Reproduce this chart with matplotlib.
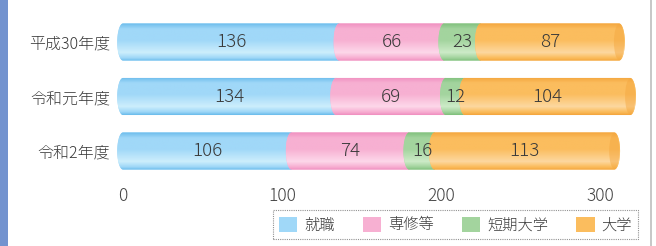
import numpy as np
import matplotlib
matplotlib.use("Agg")
import matplotlib.pyplot as plt
from matplotlib.path import Path
from matplotlib.patches import PathPatch, Ellipse, Patch, Rectangle
from matplotlib.colors import LinearSegmentedColormap, to_rgb

plt.rcParams['font.family'] = ['Noto Sans CJK JP', 'DejaVu Sans']
plt.rcParams['font.weight'] = 'light'

years = ["平成30年度", "令和元年度", "令和2年度"]
series = ["就職", "専修等", "短期大学", "大学"]
shushoku = [136, 134, 106]
senshu = [66, 69, 74]
tandai = [23, 12, 16]
daigaku = [87, 104, 113]
xticks = [0, 100, 200, 300]

values = [shushoku, senshu, tandai, daigaku]
base_colors = ["#a0d8f8", "#f7b0d2", "#a3d49e", "#fbbd5e"]
dark_colors = ["#6cbcec", "#f090c0", "#80c07c", "#f4a63e"]
light_colors = ["#cdeefc", "#fdd8ea", "#cdebc8", "#fdd8a0"]

W, H = 656, 246
fig = plt.figure(figsize=(W / 100, H / 100), dpi=100)
fig.patch.set_facecolor("white")

# frame decorations
fig.patches.append(Rectangle((0, 0), 8 / W, 1, transform=fig.transFigure,
                             facecolor="#7393cf", edgecolor="none"))
fig.patches.append(Rectangle((650 / W, 0), 1.5 / W, 1, transform=fig.transFigure,
                             facecolor="#c8c8c8", edgecolor="none"))

px_per_unit = 1.59
x0_px = 123
ax_left_px, ax_right_px = 117, 645
top_px, bot_px = 14.75, 178.25
ax = fig.add_axes([ax_left_px / W, 1 - bot_px / H, (ax_right_px - ax_left_px) / W, (bot_px - top_px) / H])
ax.set_facecolor("none")
xlim = ((ax_left_px - x0_px) / px_per_unit, (ax_right_px - x0_px) / px_per_unit)

ypos = np.arange(len(years))
bar_h = 0.68
cap_a = 3.6  # half-width of elliptical ends in data units


def make_cmap(i):
    d, b, l = to_rgb(dark_colors[i]), to_rgb(base_colors[i]), to_rgb(light_colors[i])
    return LinearSegmentedColormap.from_list(
        f"c{i}", [(0.0, d), (0.15, b), (0.45, b), (0.78, l), (0.92, b), (1.0, d)])


grad = np.linspace(0, 1, 64).reshape(-1, 1)
left = np.zeros(len(years))
nseg = len(values)
for i, vals in enumerate(values):
    cont = ax.barh(ypos, vals, left=left, height=bar_h, color=base_colors[i],
                   edgecolor="none", zorder=2 + i)
    cmap = make_cmap(i)
    for rect, v in zip(cont.patches, vals):
        x, y, w, h = rect.get_x(), rect.get_y(), rect.get_width(), rect.get_height()
        rect.set_visible(False)
        t = np.linspace(0, np.pi, 40)
        lx = x - cap_a * np.sin(t)
        ly = y + h / 2 + (h / 2) * np.cos(t)
        verts = list(zip(lx, ly))
        if i == nseg - 1:
            rx = x + w + cap_a * np.sin(t)
            ry = y + h / 2 - (h / 2) * np.cos(t)
            verts += list(zip(rx, ry))
        else:
            verts += [(x + w, y), (x + w, y + h)]
        verts.append(verts[0])
        codes = [Path.MOVETO] + [Path.LINETO] * (len(verts) - 2) + [Path.CLOSEPOLY]
        patch = PathPatch(Path(verts, codes), facecolor=base_colors[i], edgecolor="none",
                          zorder=2 + i)
        ax.add_patch(patch)
        im = ax.imshow(grad, cmap=cmap, aspect="auto", interpolation="bilinear",
                       extent=[x - cap_a, x + w + cap_a, y + h, y], zorder=2 + i + 0.1)
        im.set_clip_path(patch)
        if i == nseg - 1:
            e = Ellipse((x + w, y + h / 2), 2 * cap_a * 0.9, h * 0.96, facecolor=dark_colors[i],
                        edgecolor="none", alpha=0.45, zorder=2 + i + 0.2)
            ax.add_patch(e)
        ax.text(x + w / 2, y + h / 2, str(v), ha="center", va="center",
                fontsize=13.5, color="#3a3a3a", zorder=10)
    left = left + np.array(vals)

ax.set_xlim(*xlim)
ax.set_ylim(len(years) - 0.5, -0.5)
ax.set_yticks(ypos)
ax.set_yticklabels(years, fontsize=11.5, color="#3a3a3a")
ax.set_xticks(xticks)
ax.set_xticklabels([str(v) for v in xticks], fontsize=12.5, color="#444444")
ax.tick_params(axis="both", length=0)
ax.tick_params(axis="y", pad=5)
ax.tick_params(axis="x", pad=6)
for s in ax.spines.values():
    s.set_visible(False)

handles = [Patch(facecolor=base_colors[i], edgecolor="none") for i in range(nseg)]
leg = fig.legend(handles, series, ncol=4, loc="center",
                 bbox_to_anchor=((274 + 637) / 2 / W, 1 - 224.5 / H),
                 fontsize=11, frameon=True, fancybox=False, handlelength=1.2,
                 handleheight=1.2, columnspacing=1.85, handletextpad=0.45,
                 borderpad=0.4, labelcolor="#3a3a3a")
leg.get_frame().set_edgecolor("#777777")
leg.get_frame().set_linewidth(0.8)
leg.get_frame().set_linestyle((0, (1, 1)))

fig.savefig("out.png", dpi=100)
